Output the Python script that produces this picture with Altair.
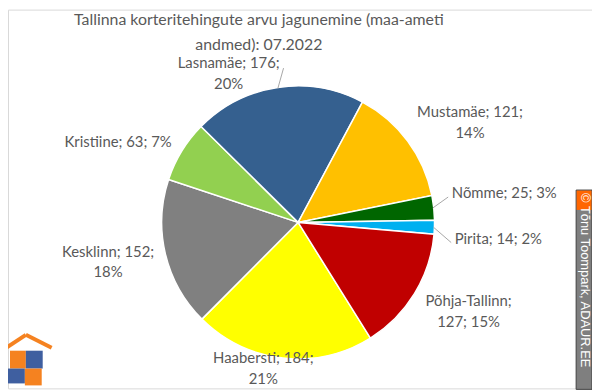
import math
import altair as alt
import pandas as pd

# ---------------- data ----------------
names = ["Haabersti", "Kesklinn", "Kristiine", "Lasnamäe", "Mustamäe", "Nõmme", "Pirita", "Põhja-Tallinn"]
counts = [184, 152, 63, 176, 121, 25, 14, 127]
colors = ["#FFFF00", "#808080", "#92D050", "#35608F", "#FFC000", "#006600", "#00B0F0", "#C00000"]

title_lines = ["Tallinna korteritehingute arvu jagunemine (maa-ameti", "andmed): 07.2022"]
credit = "© Tõnu Toompark, ADAUR.EE"

# ---------------- layout ----------------
W, H = 589, 382
CX, CY, R = 292.6, 214.6, 137.6
START_DEG = 148.0
LABEL_LH = 21
# label placement: (radius px, angle deg clockwise from 12 o'clock) of the label block centre
label_polar = {
    "Haabersti": (151.5, 193.4),
    "Kesklinn": (195.8, 258.2),
    "Kristiine": (198.8, 294.0),
    "Lasnamäe": (165.7, 335.0),
    "Mustamäe": (200.6, 59.8),
    "Nõmme": (210.0, 81.9),
    "Pirita": (202.6, 94.8),
    "Põhja-Tallinn": (194.0, 117.6),
}
break_after = {"Haabersti": "value", "Kesklinn": "value", "Lasnamäe": "value",
               "Mustamäe": "value", "Põhja-Tallinn": "name"}
leader_start = {"Lasnamäe": (156.3, 354.6), "Nõmme": (153.5, 80.4), "Pirita": (155.7, 97.5)}

TEXT_COLOR = "#595959"
FONT = "Lato"


def polar(r, deg):
    a = math.radians(deg)
    return CX + r * math.sin(a), CY - r * math.cos(a)


total = sum(counts)
df = pd.DataFrame({"name": names, "count": counts, "idx": list(range(len(names)))})

# mid angles
mids = {}
acc = 0.0
for n, c in zip(names, counts):
    mids[n] = START_DEG + 360.0 * (acc + c / 2) / total
    acc += c

lab_rows = []
for n, c in zip(names, counts):
    pct = round(c / total * 100)
    b = break_after.get(n)
    if b == "value":
        txt = f"{n}; {c};\n{pct}%"
    elif b == "name":
        txt = f"{n};\n{c}; {pct}%"
    else:
        txt = f"{n}; {c}; {pct}%"
    r, ang = label_polar[n]
    lx, ly = polar(r, ang)
    nlines = txt.count("\n") + 1
    ly -= (nlines - 1) * LABEL_LH / 2  # anchor is the first line
    lab_rows.append({"name": n, "text": txt, "lx": lx, "ly": ly})
lab_df = pd.DataFrame(lab_rows)

lead_rows = []
for n, (r, ang) in leader_start.items():
    x1, y1 = polar(r, ang)
    x2, y2 = polar(R - 1, mids[n])
    lead_rows.append({"x": x1, "y": y1, "x2": x2, "y2": y2})
lead_df = pd.DataFrame(lead_rows)

s = math.radians(START_DEG)

arc = alt.Chart(df).mark_arc(outerRadius=R, stroke="white", strokeWidth=1.5).encode(
    x=alt.value(CX), y=alt.value(CY),
    theta=alt.Theta("count:Q", stack=True, scale=alt.Scale(range=[s, s + 2 * math.pi])),
    order=alt.Order("idx:Q", sort="ascending"),
    color=alt.Color("name:N", scale=alt.Scale(domain=names, range=colors), legend=None),
)

leaders = alt.Chart(lead_df).mark_rule(color="#A6A6A6", strokeWidth=1).encode(
    x=alt.X("x:Q", scale=None, axis=None), y=alt.Y("y:Q", scale=None, axis=None),
    x2="x2:Q", y2="y2:Q",
)

labels = alt.Chart(lab_df).mark_text(
    font=FONT, fontSize=15, color=TEXT_COLOR, lineBreak="\n", lineHeight=LABEL_LH,
    align="center", baseline="middle",
).encode(
    x=alt.X("lx:Q", scale=None, axis=None), y=alt.Y("ly:Q", scale=None, axis=None),
    text="text:N",
)

one = pd.DataFrame({"a": [0]})
title = alt.Chart(pd.DataFrame({"t": ["\n".join(title_lines)]})).mark_text(
    font=FONT, fontSize=16, color=TEXT_COLOR, lineBreak="\n", lineHeight=25,
    align="center", baseline="middle",
).encode(x=alt.value(253), y=alt.value(10.5), text="t:N")

badge = alt.Chart(one).mark_rect(fill="#7F7F7F", stroke="#404040", strokeWidth=1).encode(
    x=alt.value(573), x2=alt.value(589), y=alt.value(182), y2=alt.value(383))
badge_c = alt.Chart(one).mark_rect(fill="#FF6600").encode(
    x=alt.value(573.5), x2=alt.value(588.5), y=alt.value(182.5), y2=alt.value(202))
badge_t = alt.Chart(one).mark_text(
    angle=90, align="left", baseline="middle", color="white",
    font="Liberation Sans", fontSize=13,
).encode(x=alt.value(581.5), y=alt.value(185), text=alt.value(credit))

# small house / puzzle logo
ORANGE, BLUE = "#F58220", "#3F5FA0"
pieces = alt.Chart(pd.DataFrame({
    "x": [2, 18, -1, 17], "x2": [18, 35, 17, 34],
    "y": [344, 344, 362, 362], "y2": [362, 362, 377, 379],
    "c": [ORANGE, BLUE, BLUE, ORANGE],
})).mark_rect().encode(
    x=alt.X("x:Q", scale=None, axis=None), x2="x2:Q",
    y=alt.Y("y:Q", scale=None, axis=None), y2="y2:Q",
    color=alt.Color("c:N", scale=None),
)
roof = alt.Chart(pd.DataFrame({
    "x": [-6, 18], "y": [344, 328], "x2": [18, 44], "y2": [328, 341],
})).mark_rule(color=ORANGE, strokeWidth=4).encode(
    x=alt.X("x:Q", scale=None, axis=None), y=alt.Y("y:Q", scale=None, axis=None),
    x2="x2:Q", y2="y2:Q",
)

chart = alt.layer(arc, leaders, labels, title, badge, badge_c, badge_t, pieces, roof).properties(
    width=W, height=H, autosize=alt.AutoSizeParams(type="none"), padding=0,
).configure_view(stroke="#D9D9D9", strokeWidth=1)

chart.save("out.html", embed_options={"renderer": "svg", "actions": False})
